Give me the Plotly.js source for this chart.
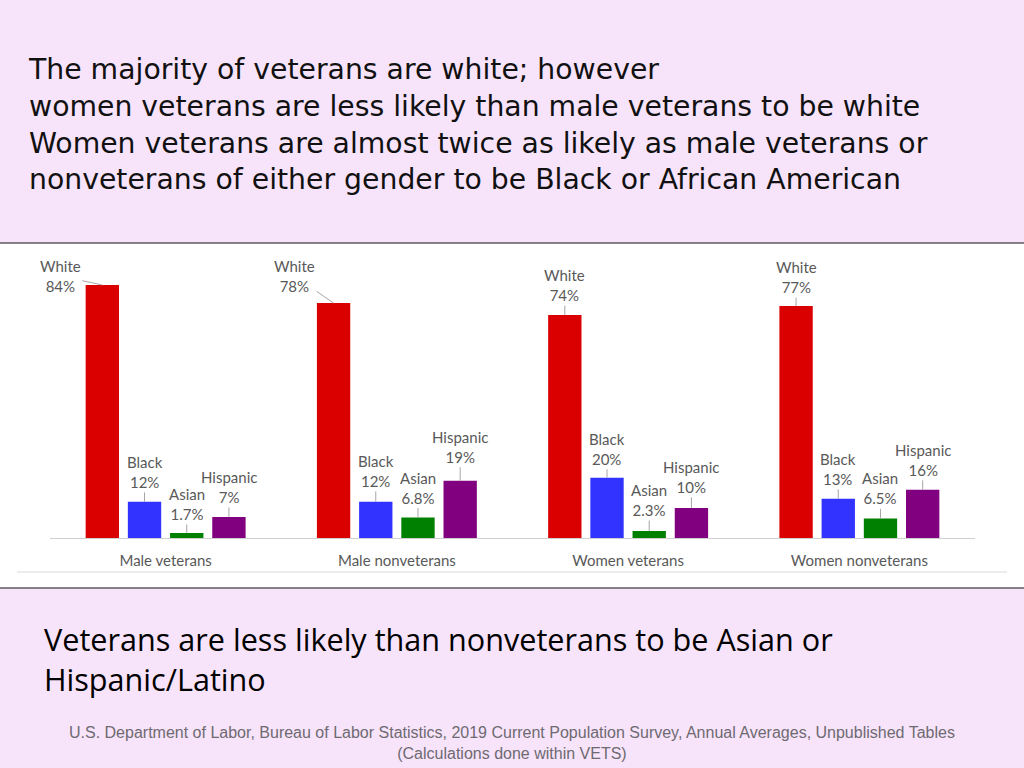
<!DOCTYPE html>
<html>
<head>
<meta charset="utf-8">
<script src="https://cdn.plot.ly/plotly-3.0.1.min.js"></script>
<style>
  html, body { margin: 0; padding: 0; background: #f7e4fb; }
  #chart { width: 1024px; height: 768px; }
</style>
</head>
<body>
<div id="chart"></div>
<script>
// ---- data ----
const groups = ["Male veterans", "Male nonveterans", "Women veterans", "Women nonveterans"];
const races = ["White", "Black", "Asian", "Hispanic"];
const white = [84, 78, 74, 77];
const black = [12, 12, 20, 13];
const asian = [1.7, 6.8, 2.3, 6.5];
const hispanic = [7, 19, 10, 16];
const valueLabels = {
  White: ["84%", "78%", "74%", "77%"],
  Black: ["12%", "12%", "20%", "13%"],
  Asian: ["1.7%", "6.8%", "2.3%", "6.5%"],
  Hispanic: ["7%", "19%", "10%", "16%"]
};

// ---- styling ----
const colors = {White: "#da0000", Black: "#3333ff", Asian: "#008000", Hispanic: "#800080"};
const series = {White: white, Black: black, Asian: asian, Hispanic: hispanic};
const W = 1024, H = 768;
const M = {l: 50, r: 49, t: 255, b: 230};
const PW = W - M.l - M.r, PH = H - M.t - M.b;
const fx = px => (px - M.l) / PW;
const fy = py => (H - M.b - py) / PH;
const bargap = 0.27;
const labelFont = {family: "Lato, 'Open Sans', sans-serif", size: 15, color: "#595959"};

// label offsets (pixels) per race per group: [ax, ay]
const offsets = {
  White:    [[-42, -9], [-39, -27], [0, -30], [0, -29]],
  Black:    [[0, -30], [0, -31], [0, -29], [0, -30]],
  Asian:    [[0, -29], [0, -30], [0, -31], [0, -30]],
  Hispanic: [[0, -30], [0, -34], [0, -31], [0, -30]]
};

const traces = races.map(r => ({
  type: "bar",
  name: r,
  x: groups,
  y: series[r],
  marker: {color: colors[r]},
  hoverinfo: "x+y+name"
}));

const slot = (1 - bargap) / races.length;
const annotations = [];
races.forEach((r, i) => {
  groups.forEach((g, j) => {
    annotations.push({
      xref: "x", yref: "y",
      x: j + (i - (races.length - 1) / 2) * slot,
      y: series[r][j],
      text: r + "<br>" + valueLabels[r][j],
      showarrow: true, arrowhead: 0, arrowwidth: 1, arrowcolor: "#a6a6a6",
      standoff: 0, ax: offsets[r][j][0], ay: offsets[r][j][1],
      font: labelFont, align: "center"
    });
  });
});

// bottom statement and source
annotations.push({
  xref: "paper", yref: "paper", x: fx(42), y: fy(616), xanchor: "left", yanchor: "top",
  text: "Veterans are less likely than nonveterans to be Asian or<br>Hispanic/Latino",
  showarrow: false, align: "left",
  font: {family: "'Open Sans', Arial, sans-serif", size: 30.6, color: "#000000"}
});
annotations.push({
  xref: "paper", yref: "paper", x: fx(512), y: fy(722), xanchor: "center", yanchor: "top",
  text: "U.S. Department of Labor, Bureau of Labor Statistics, 2019 Current Population Survey, Annual Averages, Unpublished Tables<br>(Calculations done within VETS)",
  showarrow: false, align: "center",
  font: {family: "'Liberation Sans', Arial, sans-serif", size: 16, color: "#6e6a70"}
});

const shapes = [
  {type: "rect", xref: "paper", yref: "paper", layer: "below",
   x0: fx(-3), x1: fx(W + 3), y0: fy(588), y1: fy(243),
   fillcolor: "#ffffff", line: {color: "#5f5a60", width: 1.5}},
  {type: "line", xref: "paper", yref: "paper", layer: "below",
   x0: fx(17), x1: fx(1007), y0: fy(572), y1: fy(572),
   line: {color: "#d9d9d9", width: 1}}
];

const layout = {
  width: W, height: H,
  margin: M,
  paper_bgcolor: "#f7e4fb",
  plot_bgcolor: "rgba(0,0,0,0)",
  showlegend: false,
  barmode: "group",
  bargap: bargap,
  bargroupgap: 0.21,
  title: {
    text: "The majority of veterans are white; however<br>women veterans are less likely than male veterans to be white<br>Women veterans are almost twice as likely as male veterans or<br>nonveterans of either gender to be Black or African American",
    x: 29 / W, xref: "container", xanchor: "left",
    y: 1 - 79 / H, yref: "container", yanchor: "top",
    font: {family: "'DejaVu Sans', sans-serif", size: 28.3, color: "#111111"}
  },
  xaxis: {
    type: "category",
    range: [-0.5, groups.length - 0.5],
    autorange: false,
    showline: true, linecolor: "#d0d0d0", linewidth: 1,
    showgrid: false, zeroline: false, ticks: "",
    ticklabelstandoff: 9,
    tickfont: {family: "Lato, 'Open Sans', sans-serif", size: 15, color: "#595959"}
  },
  yaxis: {
    range: [0, PH / (253 / 84)],
    autorange: false,
    visible: false, showgrid: false, zeroline: false, fixedrange: true
  },
  annotations: annotations,
  shapes: shapes
};

Plotly.newPlot("chart", traces, layout, {displayModeBar: false, staticPlot: true});
</script>
</body>
</html>
